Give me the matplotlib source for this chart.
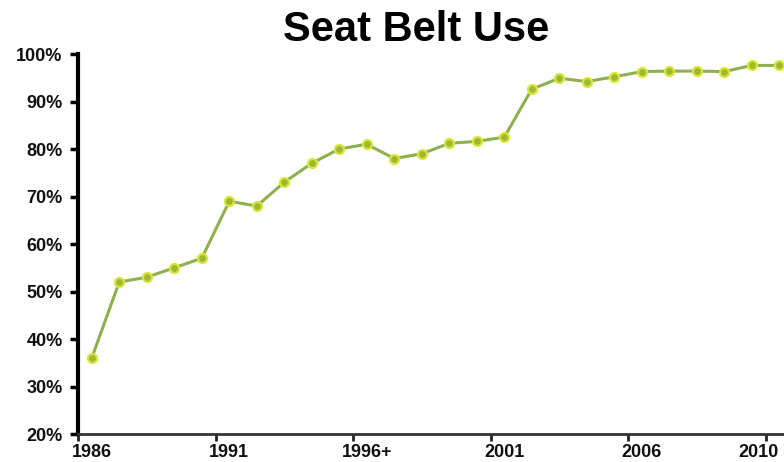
import matplotlib
matplotlib.use("Agg")
import matplotlib.pyplot as plt
from matplotlib.ticker import FixedLocator, NullFormatter, FuncFormatter

plt.rcParams["font.family"] = ["Liberation Sans", "DejaVu Sans"]

# Belt use rate (%) by survey period
usage = [36, 52, 53, 55, 57, 69, 68, 73, 77, 80, 81, 78, 79, 81.2, 81.6,
         82.5, 92.6, 94.9, 94.2, 95.2, 96.3, 96.4, 96.4, 96.3, 97.6, 97.6]
year_labels = ["1986", "1991", "1996+", "2001", "2006", "2010"]
label_positions = [0, 5, 10, 15, 20, 24.25]
yticks = [20, 30, 40, 50, 60, 70, 80, 90, 100]

fig = plt.figure(figsize=(7.84, 4.62), dpi=100)
ax = fig.add_axes([0.0995, 0.0606, 0.9005, 0.8225])

x = list(range(len(usage)))
ax.plot(x, usage, color="#8fb04f", lw=2.2, marker="o", markersize=6.5,
        markerfacecolor="#9fb832", markeredgecolor="#d8e63c",
        markeredgewidth=1.6, clip_on=False, zorder=3)

ax.set_xlim(-0.5, 25.17)
ax.set_ylim(20, 100)

# Tick marks sit between categories, labels under category centres
ax.xaxis.set_major_locator(FixedLocator([-0.5, 4.5, 9.5, 14.5, 19.5, 24.5]))
ax.xaxis.set_major_formatter(NullFormatter())
ax.xaxis.set_minor_locator(FixedLocator(label_positions))
ax.set_xticklabels(year_labels, minor=True)
ax.tick_params(axis="x", which="major", length=5, width=2, color="#222222",
               direction="out")
ax.tick_params(axis="x", which="minor", length=0, pad=7.5, labelsize=13)

ax.set_yticks(yticks)
ax.yaxis.set_major_formatter(FuncFormatter(lambda v, p: f"{int(v)}%"))
ax.tick_params(axis="y", length=6, width=2.5, color="black", pad=5,
               labelsize=13)

for lab in ax.get_xticklabels(minor=True) + ax.get_yticklabels():
    lab.set_fontweight("bold")
    lab.set_color("#111111")

for side in ("top", "right"):
    ax.spines[side].set_visible(False)
ax.spines["left"].set_linewidth(3)
ax.spines["left"].set_color("black")
ax.spines["bottom"].set_linewidth(2)
ax.spines["bottom"].set_color("#333333")

fig.text(416 / 784, 1 - 30 / 462, "Seat Belt Use", ha="center", va="center",
         fontsize=30, fontweight="bold", color="black")

fig.savefig("out.png", dpi=100)
